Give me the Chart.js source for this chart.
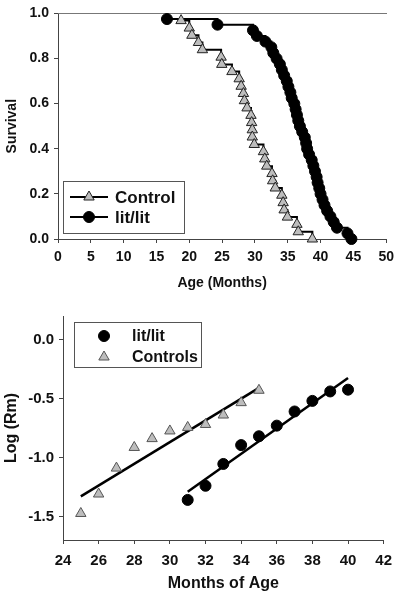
<!DOCTYPE html>
<html>
<head>
<meta charset="utf-8">
<script src="https://cdn.jsdelivr.net/npm/chart.js@4.4.1/dist/chart.umd.min.js"></script>
<style>
  body { margin: 0; background: #fff; }
  #top { position: absolute; left: 0; top: 0; width: 400px; height: 300px; }
  #bot { position: absolute; left: 0; top: 300px; width: 400px; height: 295px; }
</style>
</head>
<body>
<div id="top"><canvas id="survivalChart"></canvas></div>
<div id="bot"><canvas id="rmChart"></canvas></div>
<script>
// --- Survival curve data (age at death, months / fraction surviving)
const controlAges = [18.75, 20.0, 20.4, 21.4, 22.0, 24.85, 24.95, 26.5, 27.6, 27.9,
  28.25, 28.4, 28.8, 29.4, 29.5, 29.6, 29.6, 29.9, 31.3, 31.5,
  31.8, 32.6, 32.7, 33.1, 34.1, 34.3, 34.45, 34.95, 36.4, 36.6, 38.75];
const controlSurvival = [0.968, 0.935, 0.903, 0.871, 0.839, 0.806, 0.774, 0.742, 0.710, 0.677,
  0.645, 0.613, 0.581, 0.548, 0.516, 0.484, 0.452, 0.419, 0.387, 0.355,
  0.323, 0.290, 0.258, 0.226, 0.194, 0.161, 0.129, 0.097, 0.065, 0.032, 0.000];

const litAges = [16.6, 24.3, 29.7, 30.3, 31.6, 32.5, 32.8, 33.3, 33.8, 34.1,
  34.45, 34.85, 35.1, 35.4, 35.6, 36.0, 36.2, 36.4, 36.6, 36.85,
  37.2, 37.6, 37.8, 37.95, 38.25, 38.65, 38.9, 39.15, 39.4, 39.55,
  39.8, 40.0, 40.3, 40.6, 41.0, 41.5, 42.0, 42.5, 44.1, 44.7];
const litSurvival = [0.975, 0.950, 0.925, 0.900, 0.875, 0.850, 0.825, 0.800, 0.775, 0.750,
  0.725, 0.700, 0.675, 0.650, 0.625, 0.600, 0.575, 0.550, 0.525, 0.500,
  0.475, 0.450, 0.425, 0.400, 0.375, 0.350, 0.325, 0.300, 0.275, 0.250,
  0.225, 0.200, 0.175, 0.150, 0.125, 0.100, 0.075, 0.050, 0.025, 0.000];

const ageTicks = [0, 5, 10, 15, 20, 25, 30, 35, 40, 45, 50];
const survivalTicks = [0, 0.2, 0.4, 0.6, 0.8, 1.0];

// --- Log(Rm) by month of age
const rmControlMonths = [25, 26, 27, 28, 29, 30, 31, 32, 33, 34, 35];
const rmControlValues = [-1.475, -1.31, -1.09, -0.915, -0.84, -0.775, -0.745, -0.72, -0.64, -0.535, -0.43];
const rmLitMonths = [31, 32, 33, 34, 35, 36, 37, 38, 39, 40];
const rmLitValues = [-1.36, -1.24, -1.055, -0.895, -0.82, -0.73, -0.61, -0.52, -0.44, -0.425];

const fitControlMonths = [25, 35];
const fitControlValues = [-1.33, -0.41];
const fitLitMonths = [31, 40];
const fitLitValues = [-1.29, -0.325];

const monthTicks = [24, 26, 28, 30, 32, 34, 36, 38, 40, 42];
const logTicks = [-1.5, -1.0, -0.5, 0.0];

const FONT = "'Liberation Sans', Arial, sans-serif";
const AXIS = '#444';
const TRI_FILL = '#bdbdbd';

const toPoints = (xs, ys) => xs.map((x, i) => ({ x, y: ys[i] }));

function drawMarker(ctx, style, r, x, y, fill, stroke) {
  ctx.save();
  ctx.fillStyle = fill;
  ctx.strokeStyle = stroke;
  ctx.lineWidth = 1;
  ctx.beginPath();
  if (style === 'triangle') {
    const a = 2 * Math.PI / 3;
    for (let k = 0; k < 3; k++) {
      const px = x + Math.sin(k * a) * r, py = y - Math.cos(k * a) * r;
      k === 0 ? ctx.moveTo(px, py) : ctx.lineTo(px, py);
    }
    ctx.closePath();
  } else {
    ctx.arc(x, y, r, 0, Math.PI * 2);
  }
  ctx.fill();
  ctx.stroke();
  ctx.restore();
}

// legend drawn inside the plot, like the original
const boxLegend = {
  id: 'boxLegend',
  afterDraw(chart, args, o) {
    const ctx = chart.ctx;
    ctx.save();
    ctx.strokeStyle = '#555';
    ctx.lineWidth = 1;
    ctx.strokeRect(o.x + 0.5, o.y + 0.5, o.w, o.h);
    ctx.font = `bold ${o.fontSize}px ${FONT}`;
    ctx.fillStyle = '#111';
    ctx.textBaseline = 'middle';
    o.rows.forEach((row, i) => {
      const cy = o.y + o.firstRow + i * o.rowGap;
      if (o.line) {
        ctx.strokeStyle = '#000';
        ctx.lineWidth = 2;
        ctx.beginPath();
        ctx.moveTo(o.x + o.lineFrom, cy);
        ctx.lineTo(o.x + o.lineTo, cy);
        ctx.stroke();
      }
      drawMarker(ctx, row.style, row.r, o.x + o.markerX, cy, row.fill, row.stroke);
      ctx.fillStyle = '#111';
      ctx.fillText(row.label, o.x + o.textX, cy + 1);
    });
    ctx.restore();
  }
};

function axisOpts(min, max, tickVals, fmt, size, tickPad, title, titleSize, titlePad, fit) {
  return {
    type: 'linear',
    min, max,
    afterBuildTicks: s => { s.ticks = tickVals.map(v => ({ value: v })); },
    afterFit: fit,
    grid: { display: true, drawOnChartArea: false, drawTicks: true, tickLength: 4, color: AXIS },
    border: { display: true, color: AXIS, width: 1 },
    ticks: { color: '#111', padding: tickPad, maxRotation: 0, minRotation: 0, font: { family: FONT, size, weight: 'bold' }, callback: fmt },
    title: { display: true, text: title, color: '#111', padding: titlePad, font: { family: FONT, size: titleSize, weight: 'bold' } },
  };
}

// --- top: survival
new Chart(document.getElementById('survivalChart'), {
  type: 'scatter',
  data: {
    datasets: [
      {
        label: 'Control',
        data: toPoints(controlAges, controlSurvival),
        showLine: true, stepped: true, clip: false,
        borderColor: '#000', borderWidth: 2,
        pointStyle: 'triangle', pointRadius: 6,
        pointBackgroundColor: TRI_FILL, pointBorderColor: '#222', pointBorderWidth: 1,
      },
      {
        label: 'lit/lit',
        data: toPoints(litAges, litSurvival),
        showLine: true, stepped: true, clip: false,
        borderColor: '#000', borderWidth: 2,
        pointStyle: 'circle', pointRadius: 5.5,
        pointBackgroundColor: '#000', pointBorderColor: '#000', pointBorderWidth: 1,
      },
    ],
  },
  options: {
    responsive: true,
    maintainAspectRatio: false,
    animation: false,
    layout: { padding: { top: 9, right: 12, left: 0, bottom: 0 } },
    plugins: {
      legend: { display: false },
      tooltip: { enabled: false },
      boxLegend: {
        x: 63, y: 181, w: 121, h: 52, fontSize: 17,
        firstRow: 16, rowGap: 20, line: true, lineFrom: 7, lineTo: 45, markerX: 26, textX: 52,
        rows: [
          { label: 'Control', style: 'triangle', r: 6, fill: TRI_FILL, stroke: '#222' },
          { label: 'lit/lit', style: 'circle', r: 5.5, fill: '#000', stroke: '#000' },
        ],
      },
    },
    scales: {
      x: axisOpts(0, 50, ageTicks, v => String(v), 14, 6, 'Age (Months)', 14, { top: 4, bottom: 8 }, s => { s.height = 61; }),
      y: axisOpts(0, 1, survivalTicks, v => v.toFixed(1), 14, 5, 'Survival', 14, { top: 4, bottom: 4 }, s => { s.width = 58; }),
      x2: {
        type: 'linear', position: 'top', min: 0, max: 50,
        afterFit: s => { s.height = 0; },
        grid: { display: false },
        ticks: { display: false },
        border: { display: true, color: '#777', width: 1 },
      },
    },
  },
  plugins: [boxLegend],
});

// --- bottom: log(Rm)
new Chart(document.getElementById('rmChart'), {
  type: 'scatter',
  data: {
    datasets: [
      {
        label: 'lit/lit',
        data: toPoints(rmLitMonths, rmLitValues),
        pointStyle: 'circle', pointRadius: 5.5, clip: false,
        pointBackgroundColor: '#000', pointBorderColor: '#000',
      },
      {
        label: 'Controls',
        data: toPoints(rmControlMonths, rmControlValues),
        pointStyle: 'triangle', pointRadius: 6, clip: false,
        pointBackgroundColor: TRI_FILL, pointBorderColor: '#555', pointBorderWidth: 1,
      },
      {
        label: 'lit/lit fit',
        data: toPoints(fitLitMonths, fitLitValues),
        showLine: true, pointRadius: 0, borderColor: '#000', borderWidth: 2.5,
      },
      {
        label: 'Controls fit',
        data: toPoints(fitControlMonths, fitControlValues),
        showLine: true, pointRadius: 0, borderColor: '#000', borderWidth: 2.5,
      },
    ],
  },
  options: {
    responsive: true,
    maintainAspectRatio: false,
    animation: false,
    layout: { padding: { top: 16, right: 9, left: 0, bottom: 0 } },
    plugins: {
      legend: { display: false },
      tooltip: { enabled: false },
      boxLegend: {
        x: 74, y: 22, w: 127, h: 45, fontSize: 16,
        firstRow: 14, rowGap: 21, line: false, markerX: 30, textX: 58,
        rows: [
          { label: 'lit/lit', style: 'circle', r: 5.5, fill: '#000', stroke: '#000' },
          { label: 'Controls', style: 'triangle', r: 6, fill: TRI_FILL, stroke: '#555' },
        ],
      },
    },
    scales: {
      x: axisOpts(24, 42, monthTicks, v => String(v), 15, 8, 'Months of Age', 16, { top: 4, bottom: 2 }, s => { s.height = 55; }),
      y: axisOpts(-1.7, 0.2, logTicks, v => v.toFixed(1), 15, 5, 'Log (Rm)', 16, { top: 2, bottom: 4 }, s => { s.width = 63; }),
    },
  },
  plugins: [boxLegend],
});
</script>
</body>
</html>
